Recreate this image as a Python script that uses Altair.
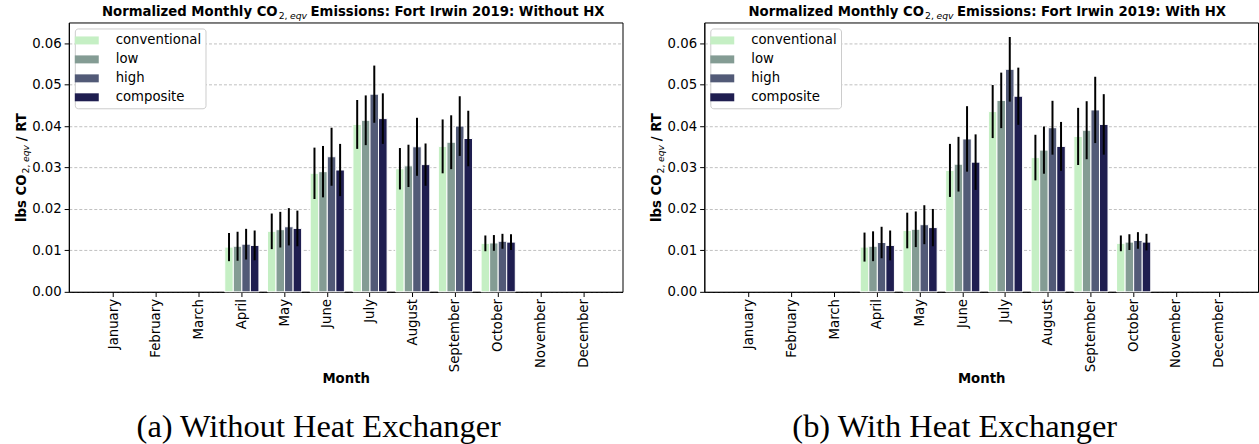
import altair as alt
import pandas as pd

MONTHS = ["January", "February", "March", "April", "May", "June", "July",
          "August", "September", "October", "November", "December"]
SERIES = ["conventional", "low", "high", "composite"]
COLORS = ["#c5efc4", "#849c94", "#525a77", "#1f1e50"]

# Normalized monthly emissions (lbs CO2,eqv / RT), without heat exchanger
nohx_conventional = [0, 0, 0, 0.0108, 0.0146, 0.0286, 0.0404, 0.0297, 0.0351, 0.0117, 0, 0]
nohx_low          = [0, 0, 0, 0.0110, 0.0150, 0.0290, 0.0414, 0.0304, 0.0361, 0.0118, 0, 0]
nohx_high         = [0, 0, 0, 0.0115, 0.0157, 0.0326, 0.0477, 0.0350, 0.0400, 0.0122, 0, 0]
nohx_composite    = [0, 0, 0, 0.0112, 0.0153, 0.0294, 0.0418, 0.0307, 0.0370, 0.0120, 0, 0]
nohx_conventional_err = [0, 0, 0, 0.0034, 0.0043, 0.0062, 0.0059, 0.0050, 0.0065, 0.0019, 0, 0]
nohx_low_err          = [0, 0, 0, 0.0035, 0.0043, 0.0062, 0.0060, 0.0051, 0.0065, 0.0019, 0, 0]
nohx_high_err         = [0, 0, 0, 0.0037, 0.0045, 0.0070, 0.0069, 0.0070, 0.0072, 0.0018, 0, 0]
nohx_composite_err    = [0, 0, 0, 0.0036, 0.0043, 0.0063, 0.0061, 0.0051, 0.0067, 0.0019, 0, 0]

# Same, with heat exchanger
hx_conventional = [0, 0, 0, 0.0108, 0.0148, 0.0293, 0.0435, 0.0324, 0.0375, 0.0117, 0, 0]
hx_low          = [0, 0, 0, 0.0110, 0.0151, 0.0308, 0.0462, 0.0342, 0.0390, 0.0120, 0, 0]
hx_high         = [0, 0, 0, 0.0119, 0.0162, 0.0369, 0.0537, 0.0396, 0.0439, 0.0124, 0, 0]
hx_composite    = [0, 0, 0, 0.0112, 0.0155, 0.0313, 0.0472, 0.0351, 0.0404, 0.0120, 0, 0]
hx_conventional_err = [0, 0, 0, 0.0035, 0.0043, 0.0064, 0.0064, 0.0055, 0.0069, 0.0019, 0, 0]
hx_low_err          = [0, 0, 0, 0.0036, 0.0043, 0.0066, 0.0067, 0.0057, 0.0070, 0.0019, 0, 0]
hx_high_err         = [0, 0, 0, 0.0038, 0.0047, 0.0079, 0.0078, 0.0065, 0.0080, 0.0020, 0, 0]
hx_composite_err    = [0, 0, 0, 0.0036, 0.0045, 0.0067, 0.0069, 0.0059, 0.0073, 0.0020, 0, 0]

Y_TICKS = [0.0, 0.01, 0.02, 0.03, 0.04, 0.05, 0.06]

W, H = 555, 270
FONT = "DejaVu Sans"
FS = 13.3
SUB = 9.3


def text(t, x, y, size=FS, weight="bold", style="normal", angle=0,
         align="left", font=FONT):
    return alt.Chart(alt.Data(values=[{}])).mark_text(
        text=t, fontSize=size, fontWeight=weight, fontStyle=style,
        angle=angle, align=align, baseline="alphabetic", font=font,
        color="black",
    ).encode(x=alt.value(x), y=alt.value(y))


def panel(values, errors, suffix, title_start, caption, caption_x):
    rows = []
    for s, vals, errs in zip(SERIES, values, errors):
        for m, v, e in zip(MONTHS, vals, errs):
            if v > 0:
                rows.append({"Month": m, "Series": s, "value": v,
                             "lo": v - e, "hi": v + e})
    df = pd.DataFrame(rows)

    x = alt.X("Month:N", sort=MONTHS,
              scale=alt.Scale(domain=MONTHS, paddingInner=0.2,
                              paddingOuter=0.58, align=0.56),
              axis=alt.Axis(title="Month", labelAngle=270))
    xo = alt.XOffset("Series:N", sort=SERIES,
                     scale=alt.Scale(domain=SERIES, paddingInner=0,
                                     paddingOuter=0))
    y = alt.Y("value:Q", scale=alt.Scale(domain=[0, 0.065], nice=False),
              axis=alt.Axis(values=Y_TICKS, format=".2f", title=None))

    bars = alt.Chart(df).mark_bar(stroke="white", strokeWidth=1).encode(
        x=x, xOffset=xo, y=y,
        color=alt.Color("Series:N", sort=SERIES,
                        scale=alt.Scale(domain=SERIES, range=COLORS),
                        legend=alt.Legend(title=None)),
    )
    whiskers = alt.Chart(df).mark_rule(color="black", strokeWidth=2).encode(
        x=x, xOffset=xo, y=alt.Y("lo:Q"), y2="hi:Q",
    )

    # title: "Normalized Monthly CO_{2,eqv} Emissions: ..."
    j = title_start + 176.3
    ty = -6
    title_parts = [
        text("Normalized Monthly CO", j, ty, align="right"),
        text("2,", j + 1, ty + 3, size=SUB, weight="normal"),
        text("eqv", j + 12.4, ty + 3, size=SUB, weight="normal", style="italic"),
        text(suffix, j + 33, ty),
    ]

    # y title: "lbs CO_{2,eqv} / RT", rotated
    yb = 200
    bx = -43
    ytitle_parts = [
        text("lbs CO", bx, yb, angle=270),
        text("2,", bx + 3, yb - 48.7, size=SUB, weight="normal", angle=270),
        text("eqv", bx + 3, yb - 60.1, size=SUB, weight="normal",
             style="italic", angle=270),
        text("/ RT", bx, yb - 81, angle=270),
    ]

    cap = text(caption, caption_x, 416, size=32.5, weight="normal",
               align="center", font="Liberation Serif")

    return alt.layer(bars, whiskers, *title_parts, *ytitle_parts, cap).properties(
        width=W, height=H)


left = panel(
    [nohx_conventional, nohx_low, nohx_high, nohx_composite],
    [nohx_conventional_err, nohx_low_err, nohx_high_err, nohx_composite_err],
    "Emissions: Fort Irwin 2019: Without HX", 33, "(a) Without Heat Exchanger", 250.5,
)
right = panel(
    [hx_conventional, hx_low, hx_high, hx_composite],
    [hx_conventional_err, hx_low_err, hx_high_err, hx_composite_err],
    "Emissions: Fort Irwin 2019: With HX", 44, "(b) With Heat Exchanger", 251,
)

chart = alt.hconcat(left, right, spacing=82, bounds="flush").resolve_scale(
    color="independent", x="independent", y="independent"
).resolve_legend(color="independent").properties(
    padding={"left": 14, "top": 4, "right": 0, "bottom": 0},
    background="white",
).configure_view(
    stroke="black", strokeWidth=1
).configure_axis(
    labelFont=FONT, labelFontSize=FS, labelColor="black",
    tickColor="black", domainColor="black", tickSize=4.7, tickWidth=1,
    domainWidth=1, titleFont=FONT, titleFontSize=FS, titleFontWeight="bold",
    titleColor="black", gridColor="#b0b0b0", gridDash=[3, 2], gridWidth=0.8,
).configure_axisX(
    grid=False, labelPadding=2, titlePadding=0
).configure_axisY(
    grid=True, labelPadding=3
).configure_legend(
    orient="top-left", offset=6, padding=4, fillColor="white",
    strokeColor="#cccccc", cornerRadius=3, labelFont=FONT,
    labelFontSize=FS, labelColor="black",
    symbolType="M-1.5,-0.5L1.5,-0.5L1.5,0.5L-1.5,0.5Z", symbolSize=256,
    symbolStrokeWidth=0, symbolOpacity=1, rowPadding=4, labelOffset=21,
)

chart.save("out.html", embed_options={"renderer": "svg", "actions": False})
